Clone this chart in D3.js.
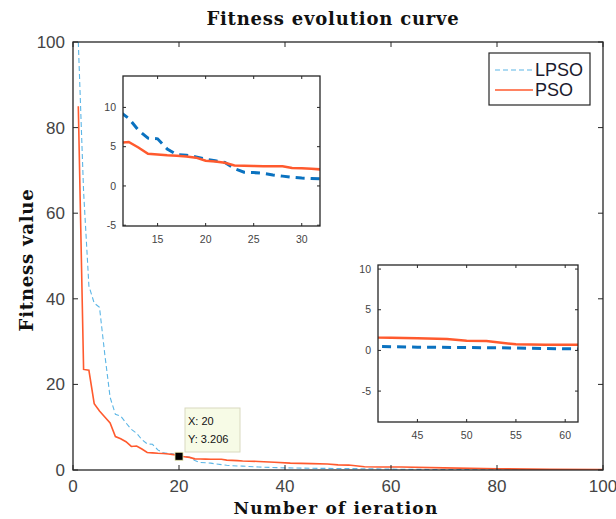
<!DOCTYPE html>
<html>
<head>
<meta charset="utf-8">
<script src="https://cdn.jsdelivr.net/npm/d3@7"></script>
<style>
  body { margin: 0; background: #fff; }
  svg { display: block; }
</style>
</head>
<body>
<div id="chartDiv"></div>
<script>
var width = 616;
var height = 519;

// iterations and fitness values
var psoIter = [1, 2, 3, 4, 5, 6, 7, 8, 9, 10, 11, 12, 13, 14, 15, 16, 17, 18, 19, 20, 21, 22, 23, 24, 25, 26, 27, 28, 29, 30, 31, 32, 35, 38, 41, 45, 48, 50, 52, 55, 58, 62, 70, 80, 90, 100];
var psoVal  = [85, 23.5, 23.3, 15.5, 13.8, 12.4, 11, 7.8, 7.3, 6.6, 5.5, 5.6, 4.9, 4.1, 4.0, 3.9, 3.85, 3.75, 3.6, 3.206, 3.1, 2.95, 2.6, 2.58, 2.55, 2.52, 2.5, 2.5, 2.3, 2.25, 2.2, 2.1, 2.0, 1.8, 1.6, 1.5, 1.4, 1.2, 1.15, 0.75, 0.7, 0.7, 0.5, 0.3, 0.15, 0.1];

var lpsoIter = [1, 2, 3, 4, 5, 6, 7, 8, 9, 10, 11, 12, 13, 14, 15, 16, 17, 18, 19, 20, 21, 22, 23, 24, 25, 26, 27, 28, 29, 30, 31, 32, 35, 40, 45, 50, 55, 60, 70, 80, 90, 100];
var lpsoVal  = [100, 65, 43, 39, 38, 27, 17, 13, 12.6, 11, 9.5, 8.6, 7.1, 6.1, 6.0, 4.7, 4.0, 3.9, 3.7, 3.4, 3.2, 3.0, 2.2, 1.75, 1.7, 1.6, 1.4, 1.25, 1.1, 1.0, 0.95, 0.9, 0.7, 0.5, 0.4, 0.35, 0.3, 0.2, 0.1, 0.05, 0.02, 0];

var mainXTicks = [0, 20, 40, 60, 80, 100];
var mainYTicks = [0, 20, 40, 60, 80, 100];
var inset1XTicks = [15, 20, 25, 30];
var inset2XTicks = [45, 50, 55, 60];
var insetYTicks = [-5, 0, 5, 10];

var tipX = 20, tipY = 3.206;

var lpso = lpsoIter.map((x, i) => ({x, y: lpsoVal[i]}));
var pso = psoIter.map((x, i) => ({x, y: psoVal[i]}));

var svg = d3.select("#chartDiv")
    .append("svg")
    .attr("width", width)
    .attr("height", height);

var axisColor = "#262626";
var blueLight = "#5cb6e6";
var blueDark = "#0a72c0";
var red = "#ff5a2e";
var serif = "'DejaVu Serif', 'Liberation Serif', serif";
var sans = "'Liberation Sans', Arial, sans-serif";

// draw a MATLAB style box with inward ticks on all sides
const drawBox = (g, x, y, tickLen, xTicks, yTicks, tickFont, xLabelOffset, yLabelOffset) => {
    var [x0, x1] = x.range();
    var [y0, y1] = y.range();
    g.append("g").selectAll("line")
        .data(xTicks)
        .join("line")
        .attr("x1", d => x(d)).attr("x2", d => x(d))
        .attr("y1", y0).attr("y2", y0 - tickLen)
        .attr("stroke", axisColor);
    g.append("g").selectAll("line")
        .data(xTicks)
        .join("line")
        .attr("x1", d => x(d)).attr("x2", d => x(d))
        .attr("y1", y1).attr("y2", y1 + tickLen)
        .attr("stroke", axisColor);
    g.append("g").selectAll("line")
        .data(yTicks)
        .join("line")
        .attr("x1", x0).attr("x2", x0 + tickLen)
        .attr("y1", d => y(d)).attr("y2", d => y(d))
        .attr("stroke", axisColor);
    g.append("g").selectAll("line")
        .data(yTicks)
        .join("line")
        .attr("x1", x1).attr("x2", x1 - tickLen)
        .attr("y1", d => y(d)).attr("y2", d => y(d))
        .attr("stroke", axisColor);
    g.append("g").selectAll("text")
        .data(xTicks)
        .join("text")
        .attr("x", d => x(d))
        .attr("y", y0 + xLabelOffset)
        .attr("text-anchor", "middle")
        .style("font", tickFont)
        .attr("fill", "#444")
        .text(d => d);
    g.append("g").selectAll("text")
        .data(yTicks)
        .join("text")
        .attr("x", x0 - yLabelOffset)
        .attr("y", d => y(d))
        .attr("dy", "0.35em")
        .attr("text-anchor", "end")
        .style("font", tickFont)
        .attr("fill", "#444")
        .text(d => d);
    g.append("rect")
        .attr("x", x0).attr("y", y1)
        .attr("width", x1 - x0).attr("height", y0 - y1)
        .attr("fill", "none")
        .attr("stroke", axisColor)
        .attr("stroke-width", 1.3);
};

// main chart
var x = d3.scaleLinear().domain([0, 100]).range([73, 603]);
var y = d3.scaleLinear().domain([0, 100]).range([470, 42]);

var main = svg.append("g");

svg.append("clipPath").attr("id", "clipMain")
  .append("rect").attr("x", 73).attr("y", 42).attr("width", 530).attr("height", 428);

var line = d3.line().x(d => x(d.x)).y(d => y(d.y));

main.append("path")
    .datum(lpso)
    .attr("clip-path", "url(#clipMain)")
    .attr("fill", "none")
    .attr("stroke", blueLight)
    .attr("stroke-width", 1.1)
    .attr("stroke-dasharray", "5,3")
    .attr("d", line);

main.append("path")
    .datum(pso)
    .attr("clip-path", "url(#clipMain)")
    .attr("fill", "none")
    .attr("stroke", red)
    .attr("stroke-width", 1.6)
    .attr("d", line);

drawBox(main, x, y, 5, mainXTicks, mainYTicks, `17px ${sans}`, 22, 8);

// title and axis labels
svg.append("text")
    .attr("x", 333).attr("y", 25)
    .attr("text-anchor", "middle")
    .style("font", `bold 18px ${serif}`)
    .style("letter-spacing", "0.8px")
    .attr("fill", "#111")
    .text("Fitness evolution curve");

svg.append("text")
    .attr("x", 336).attr("y", 514)
    .attr("text-anchor", "middle")
    .style("font", `bold 17px ${serif}`)
    .style("letter-spacing", "1.2px")
    .attr("fill", "#111")
    .text("Number of ieration");

svg.append("text")
    .attr("transform", "translate(33,260) rotate(-90)")
    .attr("text-anchor", "middle")
    .style("font", `bold 18px ${serif}`)
    .style("letter-spacing", "0.8px")
    .attr("fill", "#111")
    .text("Fitness value");

// legend
var legend = svg.append("g");
legend.append("rect")
    .attr("x", 489).attr("y", 53)
    .attr("width", 101).attr("height", 52)
    .attr("fill", "#fff")
    .attr("stroke", axisColor)
    .attr("stroke-width", 1.2);
var legendItems = [
    {name: "LPSO", color: blueLight, dash: "5,3", w: 1.1},
    {name: "PSO", color: red, dash: null, w: 1.6}
];
legend.selectAll("g")
    .data(legendItems)
    .join("g")
    .attr("transform", (d, i) => `translate(0,${70 + i * 20})`)
    .each(function(d) {
        var g = d3.select(this);
        g.append("line")
            .attr("x1", 495).attr("x2", 533)
            .attr("stroke", d.color)
            .attr("stroke-width", d.w)
            .attr("stroke-dasharray", d.dash);
        g.append("text")
            .attr("x", 535).attr("dy", "0.36em")
            .style("font", `18px ${sans}`)
            .attr("fill", "#1a1a2e")
            .text(d.name);
    });

// data tip
var tip = svg.append("g");
tip.append("rect")
    .attr("x", 185).attr("y", 408)
    .attr("width", 55).attr("height", 44)
    .attr("fill", "#f7fbe6")
    .attr("stroke", "#d9d9c0");
tip.append("text")
    .attr("x", 188).attr("y", 425)
    .style("font", `11px ${sans}`)
    .attr("fill", "#111")
    .text("X: " + tipX);
tip.append("text")
    .attr("x", 188).attr("y", 443)
    .style("font", `11px ${sans}`)
    .attr("fill", "#111")
    .text("Y: " + tipY);
tip.append("rect")
    .attr("x", x(tipX) - 4).attr("y", y(tipY) - 4)
    .attr("width", 8).attr("height", 8)
    .attr("fill", "#000")
    .attr("stroke", "#e8e8b0")
    .attr("stroke-width", 0.8);

// insets
const inset = (id, xDom, yDom, xr, yr, xTicks) => {
    var ix = d3.scaleLinear().domain(xDom).range(xr);
    var iy = d3.scaleLinear().domain(yDom).range(yr);
    var g = svg.append("g");
    g.append("rect")
        .attr("x", xr[0]).attr("y", yr[1])
        .attr("width", xr[1] - xr[0]).attr("height", yr[0] - yr[1])
        .attr("fill", "#fff");
    svg.append("clipPath").attr("id", id)
      .append("rect")
        .attr("x", xr[0]).attr("y", yr[1])
        .attr("width", xr[1] - xr[0]).attr("height", yr[0] - yr[1]);
    var l = d3.line().x(d => ix(d.x)).y(d => iy(d.y));
    g.append("path")
        .datum(lpso)
        .attr("clip-path", `url(#${id})`)
        .attr("fill", "none")
        .attr("stroke", blueDark)
        .attr("stroke-width", 3)
        .attr("stroke-dasharray", "9,6")
        .attr("d", l);
    g.append("path")
        .datum(pso)
        .attr("clip-path", `url(#${id})`)
        .attr("fill", "none")
        .attr("stroke", red)
        .attr("stroke-width", 2.5)
        .attr("d", l);
    drawBox(g, ix, iy, 3, xTicks, insetYTicks, `10.5px ${sans}`, 17, 7);
};

inset("clipInset1", [11.4, 31.9], [-5.1, 14], [123, 320], [226, 76], inset1XTicks);
inset("clipInset2", [41, 61.3], [-8.8, 10.5], [378, 578], [422, 265], inset2XTicks);
</script>
</body>
</html>
